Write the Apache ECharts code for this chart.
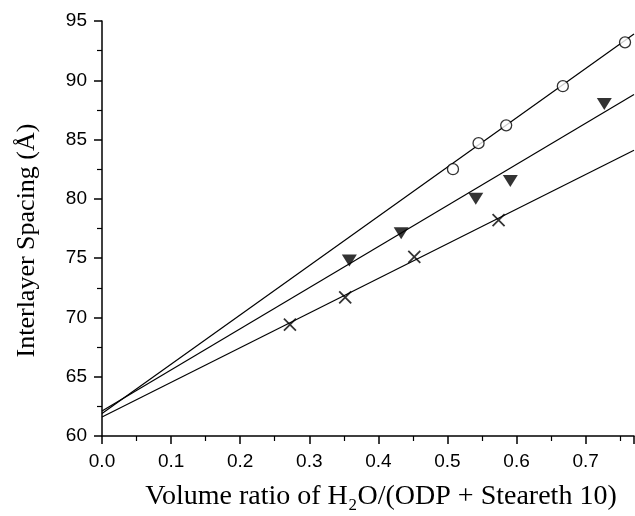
<!DOCTYPE html>
<html>
<head>
<meta charset="utf-8">
<script src="https://cdn.jsdelivr.net/npm/echarts@6/dist/echarts.min.js"></script>
<style>
  html, body { margin: 0; padding: 0; background: #fff; }
  #chart { width: 635px; height: 516px; }
</style>
</head>
<body>
<div id="chart"></div>
<script>
var circleX = [0.508, 0.545, 0.585, 0.667, 0.757];
var circleY = [82.5, 84.7, 86.2, 89.5, 93.2];
var triX = [0.358, 0.433, 0.541, 0.591, 0.727];
var triY = [74.8, 77.1, 80.0, 81.5, 88.0];
var crossX = [0.272, 0.352, 0.452, 0.574];
var crossY = [69.4, 71.7, 75.1, 78.2];

// straight fit lines, end points read at x = 0 and at the right edge
var fitCircle = [[0, 61.9], [0.77, 93.9]];
var fitTri = [[0, 62.1], [0.77, 88.8]];
var fitCross = [[0, 61.6], [0.77, 84.1]];

var xTicks = [0, 0.1, 0.2, 0.3, 0.4, 0.5, 0.6, 0.7];

function pairs(xs, ys){
	var out = [];
	for(var i=0;i<xs.length;i++){
		out.push([xs[i], ys[i]]);
	}
	return out;
}

var myChart = echarts.init(document.getElementById("chart"), null, {renderer: 'canvas'});

var fitLine = function(data){
	return {
		type: 'line',
		data: data,
		symbol: 'none',
		silent: true,
		lineStyle: {color: '#000', width: 1.2},
		z: 1
	};
};

var option = {
	animation: false,
	backgroundColor: '#fff',
	grid: {left: 102, right: 1, top: 21, bottom: 78},
	xAxis: {
		type: 'value',
		min: 0,
		max: 0.77,
		interval: 0.1,
		name: 'Volume ratio of H\u2082O/(ODP + Steareth 10)',
		nameLocation: 'middle',
		nameGap: 47,
		nameTextStyle: {fontFamily: 'Liberation Serif', fontSize: 28, color: '#000', padding: [0, 0, 0, 26]},
		axisLine: {lineStyle: {color: '#000', width: 1.5}},
		axisTick: {inside: false, length: 8, lineStyle: {color: '#000', width: 1.5}},
		minorTick: {show: true, splitNumber: 2, length: 5, lineStyle: {color: '#000', width: 1.2}},
		axisLabel: {
			showMaxLabel: false,
			margin: 16,
			fontFamily: 'Liberation Sans',
			fontSize: 19,
			color: '#000',
			formatter: function(v){
				for(var i=0;i<xTicks.length;i++){
					if(Math.abs(v - xTicks[i]) < 1e-6) return v.toFixed(1);
				}
				return '';
			}
		},
		splitLine: {show: false}
	},
	yAxis: {
		type: 'value',
		min: 60,
		max: 95,
		interval: 5,
		name: 'Interlayer Spacing (\u00c5)',
		nameLocation: 'middle',
		nameGap: 62,
		nameTextStyle: {fontFamily: 'Liberation Serif', fontSize: 26, color: '#000', padding: [0, 24, 0, 0]},
		axisLine: {lineStyle: {color: '#000', width: 1.5}},
		axisTick: {inside: false, length: 8, lineStyle: {color: '#000', width: 1.5}},
		minorTick: {show: true, splitNumber: 2, length: 5, lineStyle: {color: '#000', width: 1.2}},
		axisLabel: {margin: 15, fontFamily: 'Liberation Sans', fontSize: 19, color: '#000'},
		splitLine: {show: false}
	},
	series: [
		fitLine(fitCircle),
		fitLine(fitTri),
		fitLine(fitCross),
		{
			name: 'circle',
			type: 'scatter',
			data: pairs(circleX, circleY),
			symbol: 'circle',
			symbolSize: 11,
			itemStyle: {color: '#fff', borderColor: '#000', borderWidth: 1.3},
			z: 3
		},
		{
			name: 'triangle',
			type: 'scatter',
			data: pairs(triX, triY),
			symbol: 'triangle',
			symbolRotate: 180,
			symbolSize: [15, 12],
			itemStyle: {color: '#000'},
			z: 3
		},
		{
			name: 'cross',
			type: 'scatter',
			data: pairs(crossX, crossY),
			symbol: 'path://M0,0L10,10M10,0L0,10',
			symbolSize: 12,
			itemStyle: {color: 'none', borderColor: '#000', borderWidth: 1.8},
			z: 3
		}
	]
};

myChart.setOption(option);
</script>
</body>
</html>
